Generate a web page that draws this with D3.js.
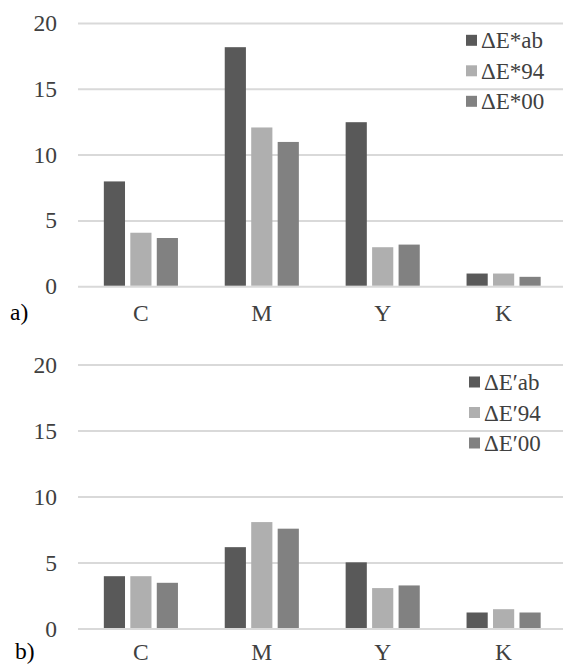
<!DOCTYPE html>
<html>
<head>
<meta charset="utf-8">
<script src="https://cdn.jsdelivr.net/npm/d3@7"></script>
<style>
  body { margin: 0; background: #fff; }
</style>
</head>
<body>
<svg id="chart" width="563" height="666"></svg>
<script>
const categories = ["C", "M", "Y", "K"];
const yTicks = [0, 5, 10, 15, 20];

// panel a)
const seriesA = ["ΔE*ab", "ΔE*94", "ΔE*00"];
const valuesA = [
  [8.0, 4.1, 3.7],
  [18.2, 12.1, 11.0],
  [12.5, 3.0, 3.2],
  [1.0, 1.0, 0.75]
];

// panel b)
const seriesB = ["ΔE′ab", "ΔE′94", "ΔE′00"];
const valuesB = [
  [4.0, 4.0, 3.5],
  [6.2, 8.1, 7.6],
  [5.05, 3.1, 3.3],
  [1.25, 1.5, 1.25]
];

const colors = ["#595959", "#afafaf", "#818181"];
const font = "'Liberation Serif', 'DejaVu Serif', serif";

const svg = d3.select("#chart")
  .attr("font-family", font);

function panel(values, series, label, top, bottom, legX, legY, labelX, catY) {
  const g = svg.append("g");

  const y = d3.scaleLinear().domain([0, 20]).range([bottom, top]);
  const x0 = d3.scaleBand().domain(categories).range([80.5, 564]).paddingInner(0.387).paddingOuter(0.193);
  const x1 = d3.scaleBand().domain(d3.range(series.length)).range([0, x0.bandwidth()]).paddingInner(0.2);

  // gridlines
  g.selectAll(".grid")
    .data(yTicks)
    .join("line")
    .attr("x1", 78)
    .attr("x2", 563)
    .attr("y1", d => y(d))
    .attr("y2", d => y(d))
    .attr("stroke", "#d9d9d9")
    .attr("stroke-width", 2);

  // y tick labels
  g.selectAll(".ytick")
    .data(yTicks)
    .join("text")
    .text(d => d)
    .attr("x", 57)
    .attr("y", d => y(d))
    .attr("dy", "0.32em")
    .attr("fill", "#404040")
    .style("font-family", font)
    .style("font-size", "23.5px")
    .style("text-anchor", "end");

  // bars
  let groups = g.selectAll(".group")
    .data(categories)
    .join("g")
    .attr("transform", d => "translate(" + x0(d) + ",0)");

  groups.selectAll("rect")
    .data((d, i) => values[i])
    .join("rect")
    .attr("x", (d, i) => x1(i))
    .attr("width", x1.bandwidth())
    .attr("y", d => y(d))
    .attr("height", d => y(0) - y(d) - 1)
    .attr("fill", (d, i) => colors[i]);

  // category labels
  g.selectAll(".cat")
    .data(categories)
    .join("text")
    .text(d => d)
    .attr("x", d => x0(d) + x0.bandwidth() / 2)
    .attr("y", catY)
    .attr("fill", "#404040")
    .style("font-family", font)
    .style("font-size", "23.5px")
    .style("text-anchor", "middle");

  // panel label
  g.append("text")
    .text(label)
    .attr("x", labelX)
    .attr("y", catY - 1)
    .attr("fill", "#000")
    .style("font-family", font)
    .style("font-size", "23.5px");

  // legend
  let legend = g.selectAll(".legend")
    .data(series)
    .join("g")
    .attr("transform", (d, i) => "translate(" + legX + "," + (legY + i * 30.5) + ")");

  legend.append("rect")
    .attr("x", 0)
    .attr("y", -5.5)
    .attr("width", 11)
    .attr("height", 11)
    .attr("fill", (d, i) => colors[i]);

  legend.append("text")
    .text(d => d)
    .attr("x", 15)
    .attr("dy", "0.35em")
    .attr("fill", "#404040")
    .style("font-family", font)
    .style("font-size", "23px");
}

panel(valuesA, seriesA, "a)", 23.5, 286.7, 466, 40.3, 10, 321);
panel(valuesB, seriesB, "b)", 365, 629, 469, 382, 15, 660);
</script>
</body>
</html>
